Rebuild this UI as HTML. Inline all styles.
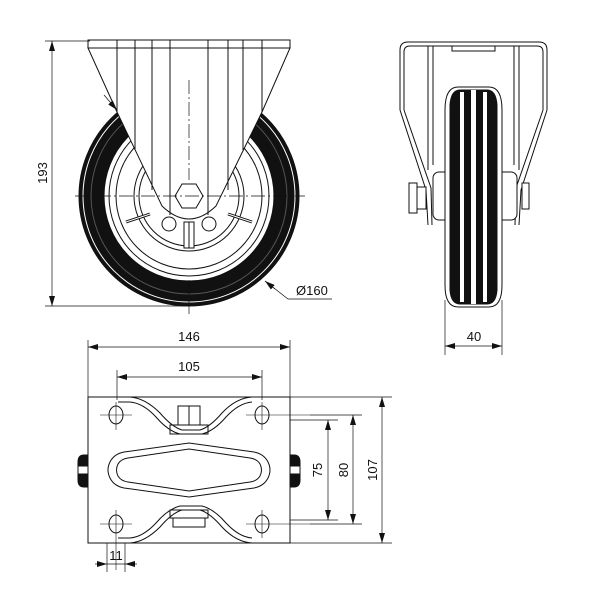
<!DOCTYPE html>
<html><head><meta charset="utf-8"><style>
html,body{margin:0;padding:0;background:#fff}
svg{display:block}
text{font-family:"Liberation Sans",sans-serif;font-size:13px;fill:#111}
</style></head><body>
<svg width="600" height="600" viewBox="0 0 600 600" xmlns="http://www.w3.org/2000/svg">
<defs>
<marker id="a" viewBox="0 0 10 6" refX="10" refY="3" markerWidth="10" markerHeight="6" orient="auto-start-reverse" markerUnits="userSpaceOnUse"><path d="M0,0 L10,3 L0,6 z" fill="#111"/></marker>
</defs>
<g fill="none" stroke="#111" stroke-width="1">
<circle cx="189" cy="196" r="110" fill="#111"/>
<circle cx="189" cy="196" r="106" stroke="#fff" stroke-width="1"/>
<circle cx="189" cy="196" r="98" stroke="#555" stroke-width="1"/>
<circle cx="189" cy="196" r="85" fill="#fff"/>
<circle cx="189" cy="196" r="80"/>
<circle cx="189" cy="196" r="73"/>
<circle cx="189" cy="196" r="55"/>
<circle cx="189" cy="196" r="50"/>
<line x1="150" y1="214" x2="126" y2="222" stroke-width="3"/>
<line x1="150" y1="214" x2="126" y2="222" stroke="#fff" stroke-width="1"/>
<line x1="228" y1="214" x2="252" y2="222" stroke-width="3"/>
<line x1="228" y1="214" x2="252" y2="222" stroke="#fff" stroke-width="1"/>
<rect x="184" y="222" width="10" height="26" fill="#fff"/>
<line x1="189" y1="222" x2="189" y2="248"/>
<circle cx="169" cy="224" r="7" fill="#fff"/>
<circle cx="209" cy="224" r="7" fill="#fff"/>
<path d="M88,48 L290,48 L262,112 L216,206 Q189,232 162,206 L117,112 Z" fill="#fff"/>
<rect x="88" y="40" width="202" height="8" fill="#fff"/>
<g>
<line x1="117" y1="40" x2="117" y2="112"/>
<line x1="135" y1="40" x2="135" y2="150"/>
<line x1="152" y1="40" x2="152" y2="190"/>
<line x1="170" y1="40" x2="170" y2="215"/>
<line x1="208" y1="40" x2="208" y2="215"/>
<line x1="228" y1="40" x2="228" y2="190"/>
<line x1="243" y1="40" x2="243" y2="150"/>
<line x1="262" y1="40" x2="262" y2="112"/>
</g>
<polygon points="182,184 196,184 203,196 196,208 182,208 175,196" fill="#fff"/>
<line x1="189" y1="80" x2="189" y2="180" stroke-dasharray="14,3,2,3" stroke-width="0.7"/>
<line x1="75" y1="196" x2="305" y2="196" stroke-dasharray="14,3,2,3" stroke-width="0.7"/>
<line x1="189" y1="280" x2="189" y2="314" stroke-width="0.7"/>
<line x1="45" y1="41" x2="90" y2="41" stroke-width="0.7"/>
<line x1="45" y1="306" x2="189" y2="306" stroke-width="0.7"/>
<line x1="52" y1="41" x2="52" y2="306" stroke-width="0.7" marker-start="url(#a)" marker-end="url(#a)"/>
<line x1="104" y1="95" x2="117" y2="110" stroke-width="0.7" marker-end="url(#a)"/>
<polyline points="265,281 288,299 332,299" stroke-width="0.7"/>
<line x1="275" y1="289" x2="265" y2="281" stroke-width="0.7" marker-end="url(#a)"/>

<!-- SIDE VIEW -->
<path d="M400,110 L400,50 Q400,42 408,42 L539,42 Q547,42 547,50 L547,110"/>
<path d="M404,110 L404,52 Q404,46 410,46 L537,46 Q543,46 543,52 L543,110"/>
<path d="M400,110 L426,190 L428,225 M404,110 L431,188 L432,225" />
<path d="M547,110 L521,190 L519,225 M543,110 L516,188 L515,225"/>
<line x1="428" y1="46" x2="428" y2="170"/><line x1="433" y1="46" x2="433" y2="165"/>
<line x1="519" y1="46" x2="519" y2="170"/><line x1="514" y1="46" x2="514" y2="165"/>
<rect x="452" y="46" width="43" height="5"/>
<rect x="433" y="172" width="84" height="48" rx="6" fill="#fff"/>
<path d="M445,110 Q445,87 458,87 L489,87 Q502,87 502,110 L502,285 Q502,307 489,307 L458,307 Q445,307 445,285 Z" fill="#fff"/>
<path d="M450,105 Q451,90 460,90 L487,90 Q496,90 497,105 L497,290 Q496,304 487,304 L460,304 Q451,304 450,290 Z" fill="#111"/>
<rect x="460" y="92" width="4" height="210" fill="#fff" stroke="none"/>
<rect x="471" y="90" width="5" height="214" fill="#fff" stroke="none"/>
<rect x="483" y="92" width="4" height="210" fill="#fff" stroke="none"/>
<rect x="409" y="183" width="8" height="30" fill="#fff"/>
<rect x="417" y="187" width="9" height="22" fill="#fff"/>
<rect x="522" y="183" width="7" height="26" fill="#fff"/>
<line x1="445" y1="300" x2="445" y2="355" stroke-width="0.7"/>
<line x1="502" y1="300" x2="502" y2="355" stroke-width="0.7"/>
<line x1="445" y1="346" x2="502" y2="346" stroke-width="0.7" marker-start="url(#a)" marker-end="url(#a)"/>

<!-- BOTTOM VIEW -->
<rect x="88" y="397" width="202" height="146" fill="#fff"/>
<path d="M116,397 L130,397 Q145,398 160,413 Q172,427 182,430 L200,430 Q210,427 222,413 Q236,398 252,397 L262,397" />
<path d="M118,402 L130,402 Q143,403 156,417 Q168,431 180,434 L202,434 Q214,431 226,417 Q239,403 252,402" />
<path d="M116,543 L130,543 Q145,542 160,527 Q172,513 182,510 L200,510 Q210,513 222,527 Q236,542 252,543 L262,543" />
<path d="M118,538 L130,538 Q143,537 156,523 Q168,509 180,506 L202,506 Q214,509 226,523 Q239,537 252,538" />
<rect x="170" y="425" width="38" height="9"/>
<rect x="178" y="406" width="22" height="19"/>
<line x1="189" y1="406" x2="189" y2="425"/>
<rect x="170" y="510" width="38" height="8"/>
<rect x="173" y="518" width="32" height="9"/>
<ellipse cx="116" cy="415" rx="7" ry="9"/>
<ellipse cx="262" cy="415" rx="7" ry="9"/>
<ellipse cx="116" cy="524" rx="7" ry="9"/>
<ellipse cx="262" cy="524" rx="7" ry="9"/>
<g stroke-width="0.6">
<line x1="100" y1="415" x2="132" y2="415"/><line x1="116" y1="402" x2="116" y2="430"/>
<line x1="246" y1="415" x2="310" y2="415"/><line x1="262" y1="402" x2="262" y2="430"/>
<line x1="100" y1="524" x2="132" y2="524"/><line x1="116" y1="510" x2="116" y2="570"/>
<line x1="246" y1="524" x2="310" y2="524"/><line x1="262" y1="510" x2="262" y2="538"/>
</g>
<path d="M110,462 Q106,470 110,478 Q114,486 124,488 L189,497 L254,488 Q264,486 268,478 Q272,470 268,462 Q264,454 254,452 L189,443 L124,452 Q114,454 110,462 Z"/>
<path d="M118,464 Q115,470 118,476 Q121,481 128,482 L189,491 L250,482 Q257,481 260,476 Q263,470 260,464 Q257,459 250,458 L189,449 L128,458 Q121,459 118,464 Z"/>
<path d="M84,455 Q78,455 78,462 L78,480 Q78,487 84,487 L88,487 L88,455 Z" fill="#111"/>
<rect x="78" y="466" width="10" height="8" fill="#fff"/>
<path d="M294,455 Q300,455 300,462 L300,480 Q300,487 294,487 L290,487 L290,455 Z" fill="#111"/>
<rect x="290" y="466" width="10" height="8" fill="#fff"/>
<g stroke-width="0.7">
<line x1="88" y1="340" x2="88" y2="397"/><line x1="290" y1="340" x2="290" y2="397"/>
<line x1="88" y1="347" x2="290" y2="347" marker-start="url(#a)" marker-end="url(#a)"/>
<line x1="117" y1="370" x2="117" y2="400"/><line x1="262" y1="370" x2="262" y2="400"/>
<line x1="117" y1="377" x2="262" y2="377" marker-start="url(#a)" marker-end="url(#a)"/>
<line x1="290" y1="397" x2="392" y2="397"/><line x1="290" y1="543" x2="392" y2="543"/>
<line x1="382" y1="397" x2="382" y2="543" marker-start="url(#a)" marker-end="url(#a)"/>
<line x1="310" y1="415" x2="362" y2="415"/><line x1="310" y1="524" x2="362" y2="524"/>
<line x1="353" y1="415" x2="353" y2="524" marker-start="url(#a)" marker-end="url(#a)"/>
<line x1="290" y1="420" x2="338" y2="420"/><line x1="290" y1="520" x2="338" y2="520"/>
<line x1="328" y1="420" x2="328" y2="520" marker-start="url(#a)" marker-end="url(#a)"/>
<line x1="107" y1="543" x2="107" y2="572"/><line x1="125" y1="543" x2="125" y2="572"/>
<line x1="95" y1="564" x2="107" y2="564" marker-end="url(#a)"/>
<line x1="137" y1="564" x2="125" y2="564" marker-end="url(#a)"/>
<line x1="107" y1="564" x2="125" y2="564"/>
</g>
</g>
<text x="49" y="173" text-anchor="middle" transform="rotate(-90 49 173)" dy="-2">193</text>
<text x="296" y="295">Ø160</text>
<text x="474" y="341" text-anchor="middle">40</text>
<text x="189" y="341" text-anchor="middle">146</text>
<text x="189" y="371" text-anchor="middle">105</text>
<text x="116" y="560" text-anchor="middle">11</text>
<text x="323" y="470" text-anchor="middle" transform="rotate(-90 323 470)" dy="-1">75</text>
<text x="349" y="470" text-anchor="middle" transform="rotate(-90 349 470)" dy="-1">80</text>
<text x="378" y="470" text-anchor="middle" transform="rotate(-90 378 470)" dy="-1">107</text>
</svg>
</body></html>
